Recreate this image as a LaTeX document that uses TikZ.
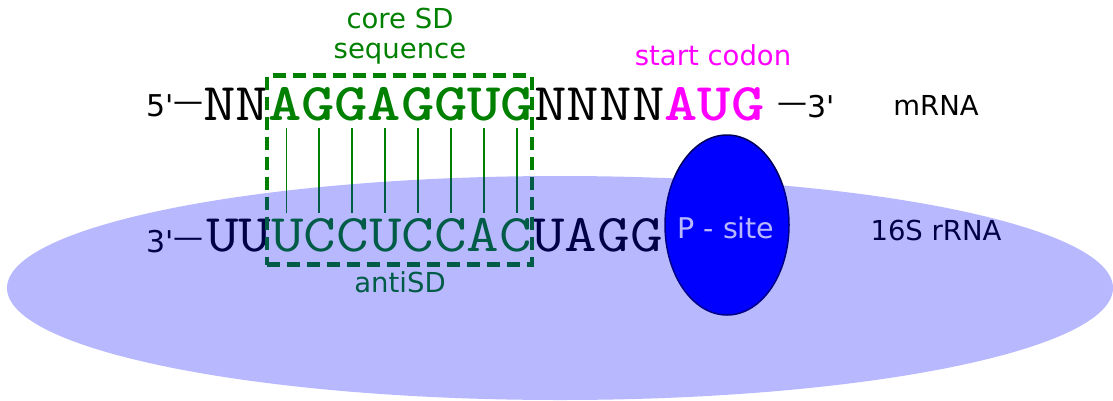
\documentclass[tikz,border=0pt]{standalone}
\usepackage{graphicx}
\usepackage{fontspec}
\usetikzlibrary{shapes.geometric}
\newfontfamily\labelfont{DejaVu Sans}[Ligatures=TeXOff]
\definecolor{sdgreen}{RGB}{0,128,0}
\definecolor{startmag}{RGB}{255,0,255}
\definecolor{psitefill}{RGB}{0,0,255}
\definecolor{psiteedge}{RGB}{0,0,90}
\definecolor{ribofill}{RGB}{0,0,255}
\newcommand{\seqtext}[1]{\scalebox{1.195}[1]{#1}}
\newcommand{\mydash}{\raisebox{4.5pt}{—}}
\tikzset{
  lbl/.style={font=\labelfont\fontsize{27.5}{30}\selectfont, inner sep=0pt, outer sep=0pt},
  endlbl/.style={font=\labelfont\fontsize{30}{32}\selectfont, inner sep=0pt, outer sep=0pt, anchor=base west},
  seq/.style={font=\ttfamily\fontsize{53}{60}\selectfont, inner sep=0pt, outer sep=0pt, anchor=base west},
  pair/.style={draw=sdgreen, line width=1.8pt},
  sdbox/.style={draw=sdgreen, line width=4.5pt, dash pattern=on 13pt off 7pt, inner sep=0pt},
  psitestyle/.style={ellipse, draw=psiteedge, line width=1.5pt, fill=psitefill, inner sep=0pt,
    minimum width=124pt, minimum height=180pt},
  psitetext/.style={text=white, inner sep=0pt, font=\labelfont\fontsize{28.5}{30}\selectfont},
  ribostyle/.style={ellipse, fill=ribofill, fill opacity=0.28, inner sep=0pt,
    minimum width=1106pt, minimum height=224pt}
}
\begin{document}
\begin{tikzpicture}[x=1pt, y=-1pt]
\useasboundingbox (0,0) rectangle (1113,400);

% mRNA row
\node[endlbl] (five) at (146,116) {5'\mydash};
\node[seq] (nn) at (203,120) {\seqtext{NN}};
\node[seq, text=sdgreen] (sd) at (nn.base east) {\seqtext{\bfseries AGGAGGUG}};
\node[seq] (nnnn) at (sd.base east) {\seqtext{NNNN}};
\node[seq, text=startmag] (aug) at (nnnn.base east) {\seqtext{\bfseries AUG}};
\node[endlbl] (threeA) at (777,117) {\mydash 3'};
\node[lbl, anchor=base] (mrna) at (936,115) {mRNA};

% rRNA row
\node[endlbl] (threeB) at (146,252) {3'\mydash};
\node[seq] (uu) at (206,251) {\seqtext{UU}};
\node[seq, text=sdgreen] (asd) at (uu.base east) {\seqtext{UCCUCCAC}};
\node[seq] (uagg) at (asd.base east) {\seqtext{UAGG}};
\node[lbl, anchor=base] (rrna) at (936,240) {16S rRNA};

% P-site (drawn over the end of the rRNA sequence)
\node[psitestyle] (psite) at (727,225) {};
\node[psitetext, anchor=base] (psitelbl) at (726,238) {P - site};

% base pairing
\foreach \i in {0,...,7}{
  \coordinate (top\i) at ({270+(\i+0.5)*32.9},128);
  \coordinate (bot\i) at ({270+(\i+0.5)*32.9},213);
  \draw[pair] (top\i) -- (bot\i);
}

% SD box
\node[sdbox, minimum width=265pt, minimum height=189pt] (sdframe) at (399.5,170) {};

% labels
\node[lbl, text=sdgreen, align=center] (corelbl) at (400,36) {core SD\\sequence};
\node[lbl, text=startmag, anchor=base] (startlbl) at (713,65) {start codon};
\node[lbl, text=sdgreen, anchor=base] (antisd) at (400,292) {antiSD};

% 16S rRNA translucent body
\node[ribostyle] (ribo) at (560,288) {};
\end{tikzpicture}
\end{document}
